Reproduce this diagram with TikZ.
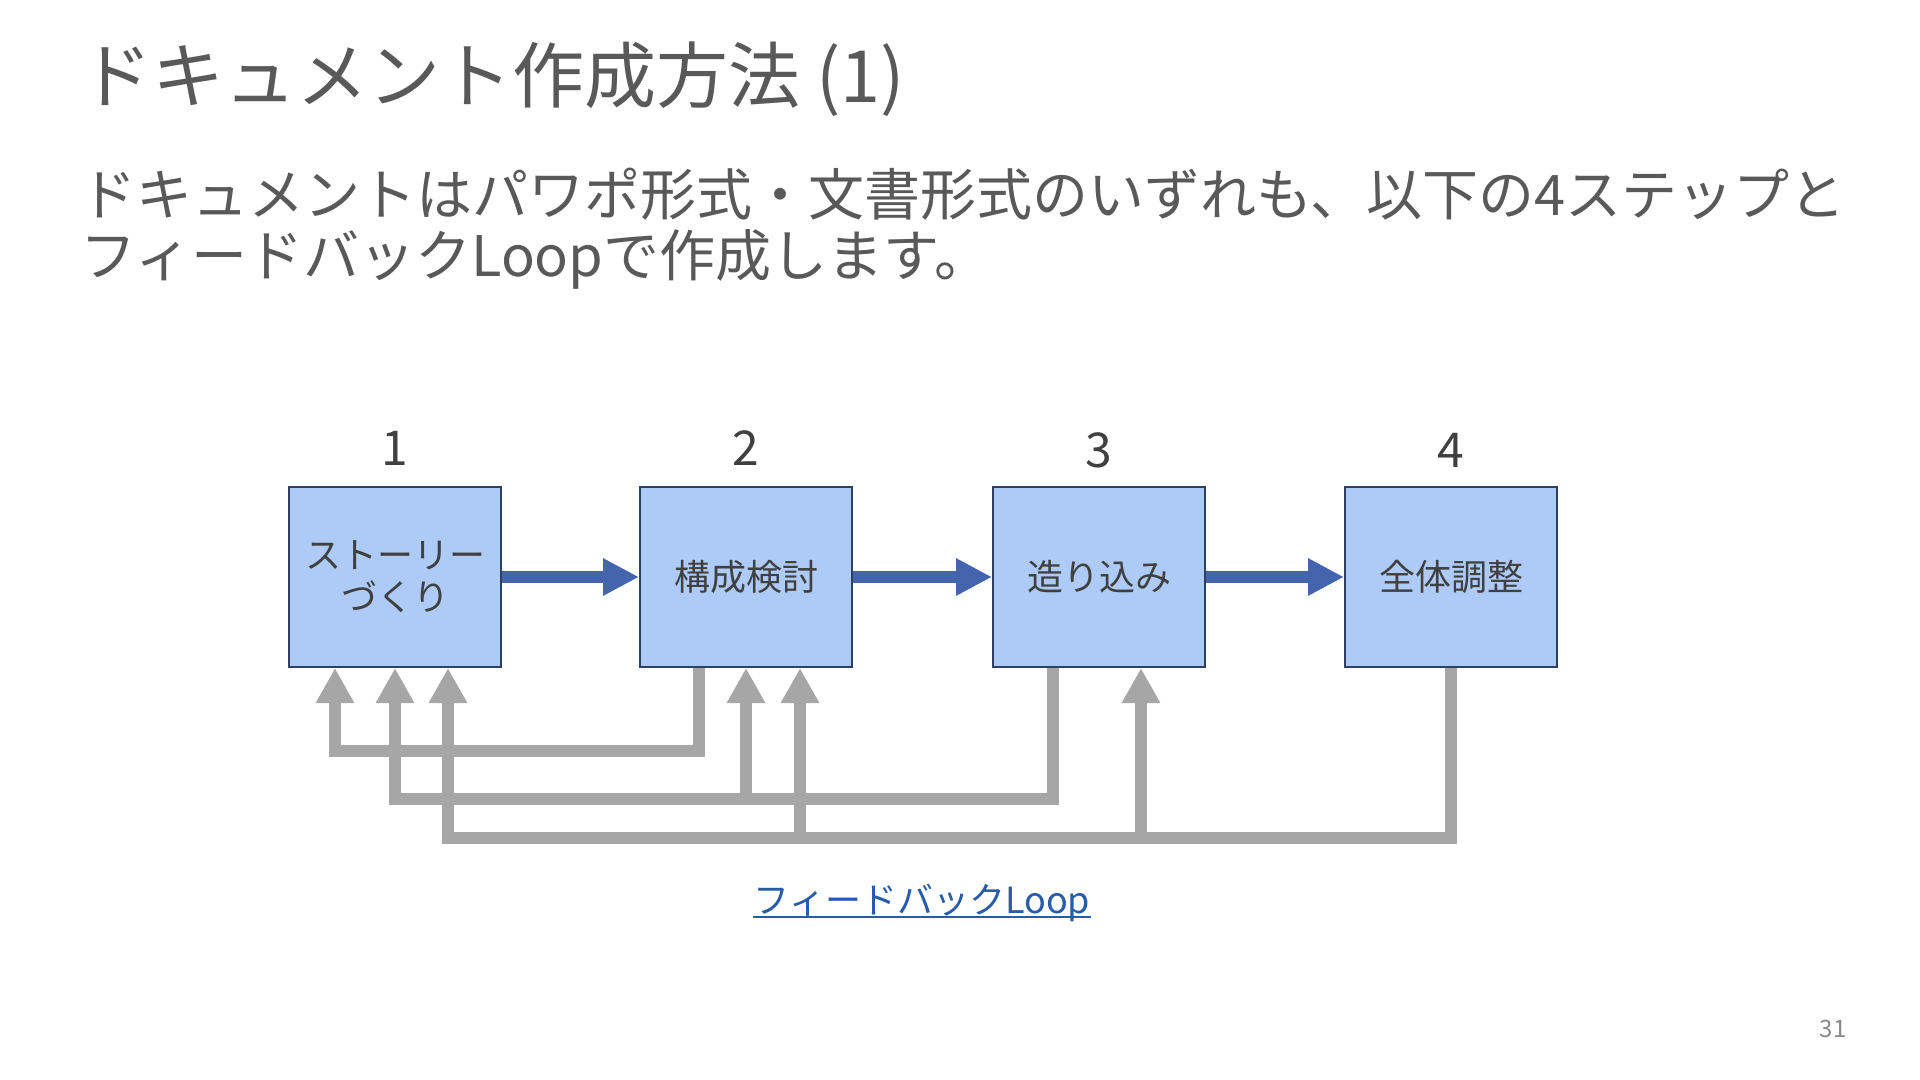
\documentclass[tikz,border=0pt]{standalone}
\usepackage{fontspec}
\setmainfont{Noto Sans CJK JP}
\usetikzlibrary{arrows.meta}
\definecolor{boxfill}{RGB}{173,203,246}
\definecolor{boxline}{RGB}{44,66,98}
\definecolor{flowblue}{RGB}{68,100,173}
\definecolor{loopgray}{RGB}{166,166,166}
\definecolor{titlegray}{RGB}{89,89,89}
\definecolor{textdark}{RGB}{64,64,64}
\definecolor{linkblue}{RGB}{38,92,170}
\definecolor{pagegray}{RGB}{137,137,137}

\begin{document}
\begin{tikzpicture}[x=0.5pt,y=0.5pt,yscale=-1,xscale=1,
  stepbox/.style={draw=boxline,fill=boxfill,line width=1pt,minimum width=106pt,minimum height=90pt,inner sep=0pt,text=textdark,font=\fontsize{18}{21}\selectfont,align=center},
  stepnum/.style={text=textdark,font=\fontsize{24}{28}\selectfont,inner sep=0pt},
  flow/.style={flowblue,line width=6pt,-{Triangle[length=18pt,width=17.5pt]}},
  back/.style={loopgray,line width=6pt,-{Triangle[length=17.5pt,width=18pt]}}]
\useasboundingbox (0,0) rectangle (1920,1080);

%Shape: Rectangle [step 1]
\node[stepbox] (story) at (395,577) {ストーリー\\づくり};
%Shape: Rectangle [step 2]
\node[stepbox] (kousei) at (746,577) {構成検討};
%Shape: Rectangle [step 3]
\node[stepbox] (tsukuri) at (1099,577) {造り込み};
%Shape: Rectangle [step 4]
\node[stepbox] (chousei) at (1451,577) {全体調整};

% Text Node
\node[stepnum] (num1) at ([yshift=-19pt]story.north) {1};
% Text Node
\node[stepnum] (num2) at ([yshift=-19pt]kousei.north) {2};
% Text Node
\node[stepnum] (num3) at ([yshift=-18pt]tsukuri.north) {3};
% Text Node
\node[stepnum] (num4) at ([yshift=-18pt]chousei.north) {4};

%Straight Lines [flow]
\draw[flow] (story) -- (kousei);
\draw[flow] (kousei) -- (tsukuri);
\draw[flow] (tsukuri) -- (chousei);

%uncomment if require: feet of the loop arrows on the boxes
\coordinate (loopA) at (0,751);
\coordinate (loopB) at (0,798.5);
\coordinate (loopC) at (0,837.5);
\coordinate (s1) at ([xshift=-30pt]story.south);
\coordinate (s2) at (story.south);
\coordinate (s3) at ([xshift=26.5pt]story.south);
\coordinate (k0) at ([xshift=-23.5pt]kousei.south);
\coordinate (k1) at (kousei.south);
\coordinate (k2) at ([xshift=27pt]kousei.south);
\coordinate (t0) at ([xshift=-23pt]tsukuri.south);
\coordinate (t1) at ([xshift=21pt]tsukuri.south);
\coordinate (c0) at (chousei.south);

%Straight Lines [loop from step 2]
\draw[back] (k0) |- (loopA -| s1) -- (s1);
%Straight Lines [loop from step 3]
\draw[back] (t0) |- (loopB -| s2) -- (s2);
\draw[back] (loopB -| k1) -- (k1);
%Straight Lines [loop from step 4]
\draw[back] (c0) |- (loopC -| s3) -- (s3);
\draw[back] (loopC -| k2) -- (k2);
\draw[back] (loopC -| t1) -- (t1);

% Text Node
\node[anchor=base west,inner sep=0pt,text=titlegray,font=\fontsize{36}{40}\selectfont] (title) at (80,103) {ドキュメント作成方法 (1)};
% Text Node
\node[anchor=base west,inner sep=0pt,align=left,text=titlegray,font=\fontsize{28}{30.5}\selectfont] (lead) at (80,277) {ドキュメントはパワポ形式・文書形式のいずれも、以下の4ステップと\\フィードバックLoopで作成します。};
% Text Node
\node[anchor=base,inner sep=0pt,text=linkblue,font=\fontsize{18}{21}\selectfont] (link) at (922,913) {フィードバックLoop};
\draw[linkblue,line width=1pt] ([yshift=2pt]link.base west) -- ([yshift=2pt]link.base east);
% Text Node
\node[inner sep=0pt,text=pagegray,font=\fontsize{12}{14}\selectfont] (page) at (1833,1029) {31};

\end{tikzpicture}
\end{document}
